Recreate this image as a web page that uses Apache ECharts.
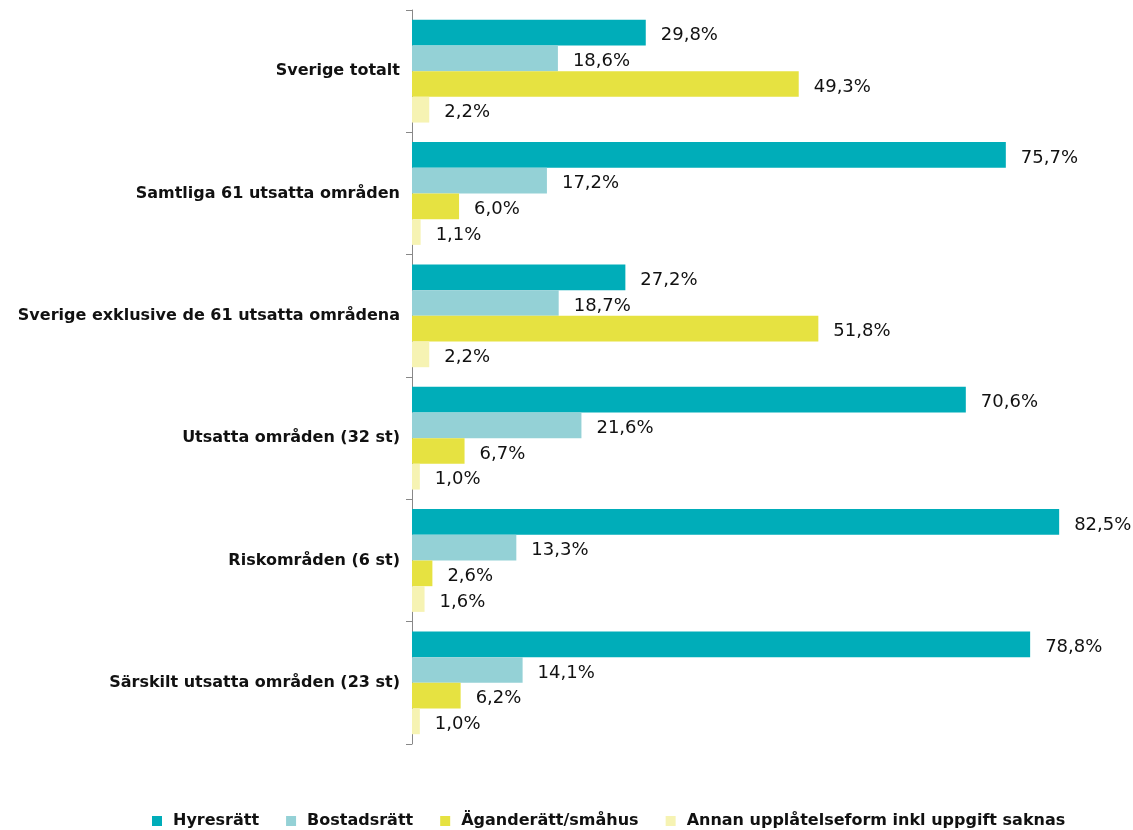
<!DOCTYPE html>
<html>
<head>
<meta charset="utf-8">
<script src="https://cdn.jsdelivr.net/npm/echarts@6/dist/echarts.min.js"></script>
<style>
  html, body { margin: 0; padding: 0; background: #fff; }
  #chart { width: 1133px; height: 830px; }
</style>
</head>
<body>
<div id="chart"></div>
<script>
// kategorier, uppifrån och ned
const categories = [
  'Sverige totalt',
  'Samtliga 61 utsatta områden',
  'Sverige exklusive de 61 utsatta områdena',
  'Utsatta områden (32 st)',
  'Riskområden (6 st)',
  'Särskilt utsatta områden (23 st)'
];
const seriesNames = ['Hyresrätt', 'Bostadsrätt', 'Äganderätt/småhus', 'Annan upplåtelseform inkl uppgift saknas'];
const hyresratt = [29.8, 75.7, 27.2, 70.6, 82.5, 78.8];
const bostadsratt = [18.6, 17.2, 18.7, 21.6, 13.3, 14.1];
const aganderatt = [49.3, 6.0, 51.8, 6.7, 2.6, 6.2];
const annan = [2.2, 1.1, 2.2, 1.0, 1.6, 1.0];
const colors = ['#00adb9', '#94d1d6', '#e6e241', '#f6f3b3'];

const font = 'DejaVu Sans, Verdana, sans-serif';

const chart = echarts.init(document.getElementById('chart'));

function makeSeries(name, data, color) {
  return {
    name: name,
    type: 'bar',
    data: data,
    barGap: '0%',
    barCategoryGap: '16%',
    itemStyle: { color: color },
    label: {
      show: true,
      position: 'right',
      distance: 15,
      offset: [0, 3],
      color: '#111',
      fontSize: 18,
      fontFamily: font,
      formatter: p => p.value.toFixed(1).replace('.', ',') + '%'
    }
  };
}

const option = {
  animation: false,
  color: colors,
  grid: { left: 412, right: 15, top: 10, bottom: 86 },
  legend: {
    top: 808,
    left: 147,
    itemWidth: 10,
    itemHeight: 10,
    itemGap: 27,
    icon: 'rect',
    textStyle: {
      fontSize: 16,
      fontWeight: 'bold',
      color: '#111',
      fontFamily: font,
      padding: [0, 0, 0, 6]
    },
    data: seriesNames
  },
  xAxis: {
    type: 'value',
    min: 0,
    max: 90,
    show: false
  },
  yAxis: {
    type: 'category',
    inverse: true,
    data: categories,
    axisLine: { show: true, lineStyle: { color: '#888', width: 1 } },
    axisTick: { show: true, length: 6, lineStyle: { color: '#888' } },
    axisLabel: {
      margin: 12,
      fontSize: 16,
      fontWeight: 'bold',
      color: '#111',
      fontFamily: font
    }
  },
  series: [
    makeSeries(seriesNames[0], hyresratt, colors[0]),
    makeSeries(seriesNames[1], bostadsratt, colors[1]),
    makeSeries(seriesNames[2], aganderatt, colors[2]),
    makeSeries(seriesNames[3], annan, colors[3])
  ]
};

chart.setOption(option);
</script>
</body>
</html>
